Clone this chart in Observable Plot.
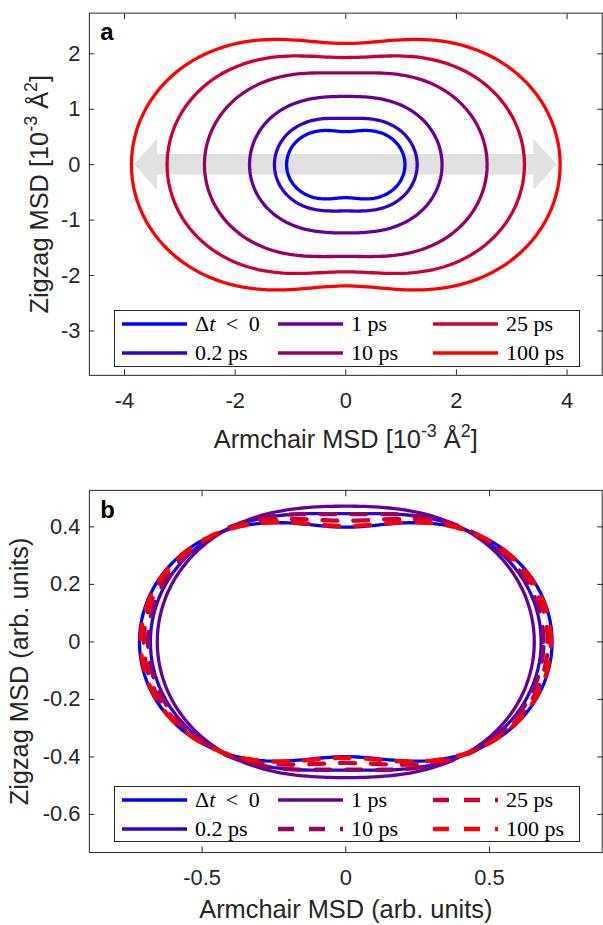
<!DOCTYPE html>
<html><head><meta charset="utf-8">
<script src="https://cdn.jsdelivr.net/npm/d3@7"></script>
<script src="https://cdn.jsdelivr.net/npm/@observablehq/plot@0.6"></script>
<style>
html,body{margin:0;padding:0;background:#fff;}
#wrap{position:relative;width:603px;height:925px;overflow:hidden;}
.panel{position:absolute;left:0;}
.legend{position:absolute;box-sizing:border-box;border:1px solid #262626;background:#fff;font-family:"Liberation Serif","Times New Roman",serif;font-size:22px;color:#000;}
.item{position:absolute;display:flex;align-items:center;height:24px;white-space:nowrap;line-height:24px;}
.item svg{display:block;margin-right:8px;}
.math{word-spacing:5px;}
</style></head><body>
<div id="wrap"></div>
<script>
// ---- data ----
const series = ["Δt < 0", "0.2 ps", "1 ps", "10 ps", "25 ps", "100 ps"];
const colors = ["#0000ff", "#3300cc", "#660099", "#990066", "#cc0033", "#ff0000"];
// panel a: armchair / zigzag MSD [10^-3 Å^2]
const armA = [1.07, 1.29, 1.74, 2.555, 3.23, 3.875];
const zigA = [0.595, 0.835, 1.232, 1.655, 1.933, 2.187];
// panel b: normalised armchair / zigzag MSD (arb. units)
const armB = [0.718, 0.680, 0.656, 0.688, 0.703, 0.714];
const zigB = [0.399, 0.446, 0.472, 0.444, 0.421, 0.403];
const dashedB = [false, false, false, true, true, true];
// tick values
const xTicksA = [-4, -2, 0, 2, 4];
const yTicksA = [2, 1, 0, -1, -2, -3];
const xTicksB = [-0.5, 0, 0.5];
const yTicksB = [0.4, 0.2, 0, -0.2, -0.4, -0.6];
// grey double arrow (armchair direction), data units
const arrowX = [-3.82, -3.40, -3.40, 3.40, 3.40, 3.82];
const arrowHalf = [0, 0.465, 0.185, 0.185, 0.465, 0];
// angles at which the directional MSD is evaluated
const angles = d3.range(0, 361, 2);

const ink = "#262626";
const sans = "Liberation Sans, Arial, Helvetica, sans-serif";

// directional MSD along angle θ from the armchair (θ=0) and zigzag (θ=90°) values
function directional(arm, zig, i) {
  return angles.map(deg => {
    const t = deg * Math.PI / 180;
    const r = arm * Math.cos(t) ** 2 + zig * Math.sin(t) ** 2;
    return {series: series[i], x: r * Math.cos(t), y: r * Math.sin(t)};
  });
}

function makePanel(o) {
  const fmt = d => String(d);
  const marks = [
    ...(o.under || []),
    ...o.curves,
    Plot.frame({stroke: ink, strokeWidth: 1}),
    Plot.axisX({anchor: "bottom", ticks: o.xTicks, tickSize: -5.5, tickPadding: o.xPad, tickFormat: fmt, color: ink, fontSize: 22, fontFamily: sans, label: null}),
    Plot.axisX({anchor: "top", ticks: o.xTicks, tickSize: -5.5, fill: "none", stroke: ink, label: null}),
    Plot.axisY({anchor: "left", ticks: o.yTicks, tickSize: -5.5, tickPadding: 14.5, tickFormat: fmt, color: ink, fontSize: 22, fontFamily: sans, label: null}),
    Plot.axisY({anchor: "right", ticks: o.yTicks, tickSize: -5.5, fill: "none", stroke: ink, label: null}),
    Plot.text([o.xLabel], {text: d => d, frameAnchor: "bottom", dy: o.xLabelDy, textAnchor: "middle", lineAnchor: "middle", fontSize: 25.5, fontFamily: sans, fill: ink}),
    Plot.text([o.yLabel], {text: d => d, frameAnchor: "left", dx: o.yLabelDx, rotate: -90, textAnchor: "middle", lineAnchor: "middle", fontSize: 25.5, fontFamily: sans, fill: ink}),
    Plot.text([o.letter], {text: d => d, frameAnchor: "top-left", dx: 11, dy: o.letterDy, textAnchor: "start", lineAnchor: "top", fontSize: 24, fontWeight: "bold", fontFamily: sans, fill: "#000"})
  ];
  return Plot.plot({
    width: 606, height: o.height,
    marginLeft: 89.3, marginRight: 1.3, marginTop: o.marginTop, marginBottom: o.marginBottom,
    x: {domain: o.xDomain}, y: {domain: o.yDomain},
    style: {fontFamily: sans, fontSize: "22px", color: ink, background: "transparent", overflow: "visible"},
    marks
  });
}

function superscript(svg, plain, parts) {
  svg.querySelectorAll("text").forEach(t => {
    if (t.textContent !== plain) return;
    while (t.firstChild) t.removeChild(t.firstChild);
    let raised = false;
    parts.forEach(([s, sup]) => {
      const ts = document.createElementNS("http://www.w3.org/2000/svg", "tspan");
      ts.textContent = s;
      if (sup && !raised) { ts.setAttribute("dy", "-11"); ts.setAttribute("font-size", "18"); raised = true; }
      else if (sup) { ts.setAttribute("font-size", "18"); }
      else if (!sup && raised) { ts.setAttribute("dy", "11"); raised = false; }
      t.appendChild(ts);
    });
  });
}

const wrap = document.getElementById("wrap");

// ---- panel a ----
const curvesA = series.map((s, i) => Plot.line(directional(armA[i], zigA[i], i), {
  x: "x", y: "y", stroke: colors[i], strokeWidth: 3.3, strokeLinejoin: "round"
}));
const arrowData = arrowX.map((x, i) => ({x, y1: -arrowHalf[i], y2: arrowHalf[i]}));
const labelA = "Armchair MSD [10-3 Å2]";
const ylabelA = "Zigzag MSD [10-3 Å2]";
const svgA = makePanel({
  height: 460, marginTop: 12.7, marginBottom: 83.3,
  xDomain: [-4.635, 4.635], yDomain: [-3.80, 2.734],
  xTicks: xTicksA, yTicks: yTicksA, xPad: 22.5,
  under: [Plot.areaY(arrowData, {x: "x", y1: "y1", y2: "y2", fill: "#e1e1e1", curve: "linear"})],
  curves: curvesA,
  xLabel: labelA, yLabel: ylabelA, xLabelDy: 65, yLabelDx: -50,
  letter: "a", letterDy: 10
});
superscript(svgA, labelA, [["Armchair MSD [10", 0], ["-3", 1], [" Å", 0], ["2", 1], ["]", 0]]);
superscript(svgA, ylabelA, [["Zigzag MSD [10", 0], ["-3", 1], [" Å", 0], ["2", 1], ["]", 0]]);
const pa = document.createElement("div"); pa.className = "panel"; pa.style.top = "0px"; pa.appendChild(svgA); wrap.appendChild(pa);

// ---- panel b ----
const curvesB = series.map((s, i) => Plot.line(directional(armB[i], zigB[i], i), {
  x: "x", y: "y", stroke: colors[i],
  strokeWidth: dashedB[i] ? 4.3 : 3.3,
  strokeDasharray: dashedB[i] ? "15,16" : null,
  strokeLinejoin: "round"
}));
const svgB = makePanel({
  height: 465, marginTop: 30, marginBottom: 71,
  xDomain: [-0.8923, 0.8923], yDomain: [-0.7325, 0.527],
  xTicks: xTicksB, yTicks: yTicksB, xPad: 22.5,
  curves: curvesB,
  xLabel: "Armchair MSD (arb. units)", yLabel: "Zigzag MSD (arb. units)", xLabelDy: 58, yLabelDx: -70,
  letter: "b", letterDy: 11
});
const pb = document.createElement("div"); pb.className = "panel"; pb.style.top = "460px"; pb.appendChild(svgB); wrap.appendChild(pb);

// ---- legends ----
function legend(top, height, rows, widthFn, dashFn) {
  const box = document.createElement("div");
  box.className = "legend";
  Object.assign(box.style, {left: "113.8px", top: top + "px", width: "466.5px", height: height + "px"});
  const cols = [7.2, 163.2, 318.2];
  series.forEach((s, i) => {
    const it = document.createElement("div");
    it.className = "item";
    it.style.left = cols[Math.floor(i / 2)] + "px";
    it.style.top = (rows[i % 2] - 12) + "px";
    const sw = widthFn(i), dash = dashFn(i);
    it.innerHTML = `<svg width="65" height="8"><line x1="0" x2="65" y1="4" y2="4" stroke="${colors[i]}" stroke-width="${sw}" ${dash ? `stroke-dasharray="${dash}"` : ""}/></svg>`;
    const lab = document.createElement("span");
    if (s.startsWith("Δt")) {
      lab.className = "math";
      lab.append("Δ");
      const it2 = document.createElement("i"); it2.textContent = "t"; lab.append(it2);
      lab.append(s.slice(2));
    } else lab.textContent = s;
    it.appendChild(lab);
    box.appendChild(it);
  });
  wrap.appendChild(box);
}
legend(310, 57, [13, 42], () => 3.5, () => null);
legend(786, 56, [13.3, 42.3], i => dashedB[i] ? 4.3 : 3.5, i => dashedB[i] ? "16,15" : null);
</script>
</body></html>
